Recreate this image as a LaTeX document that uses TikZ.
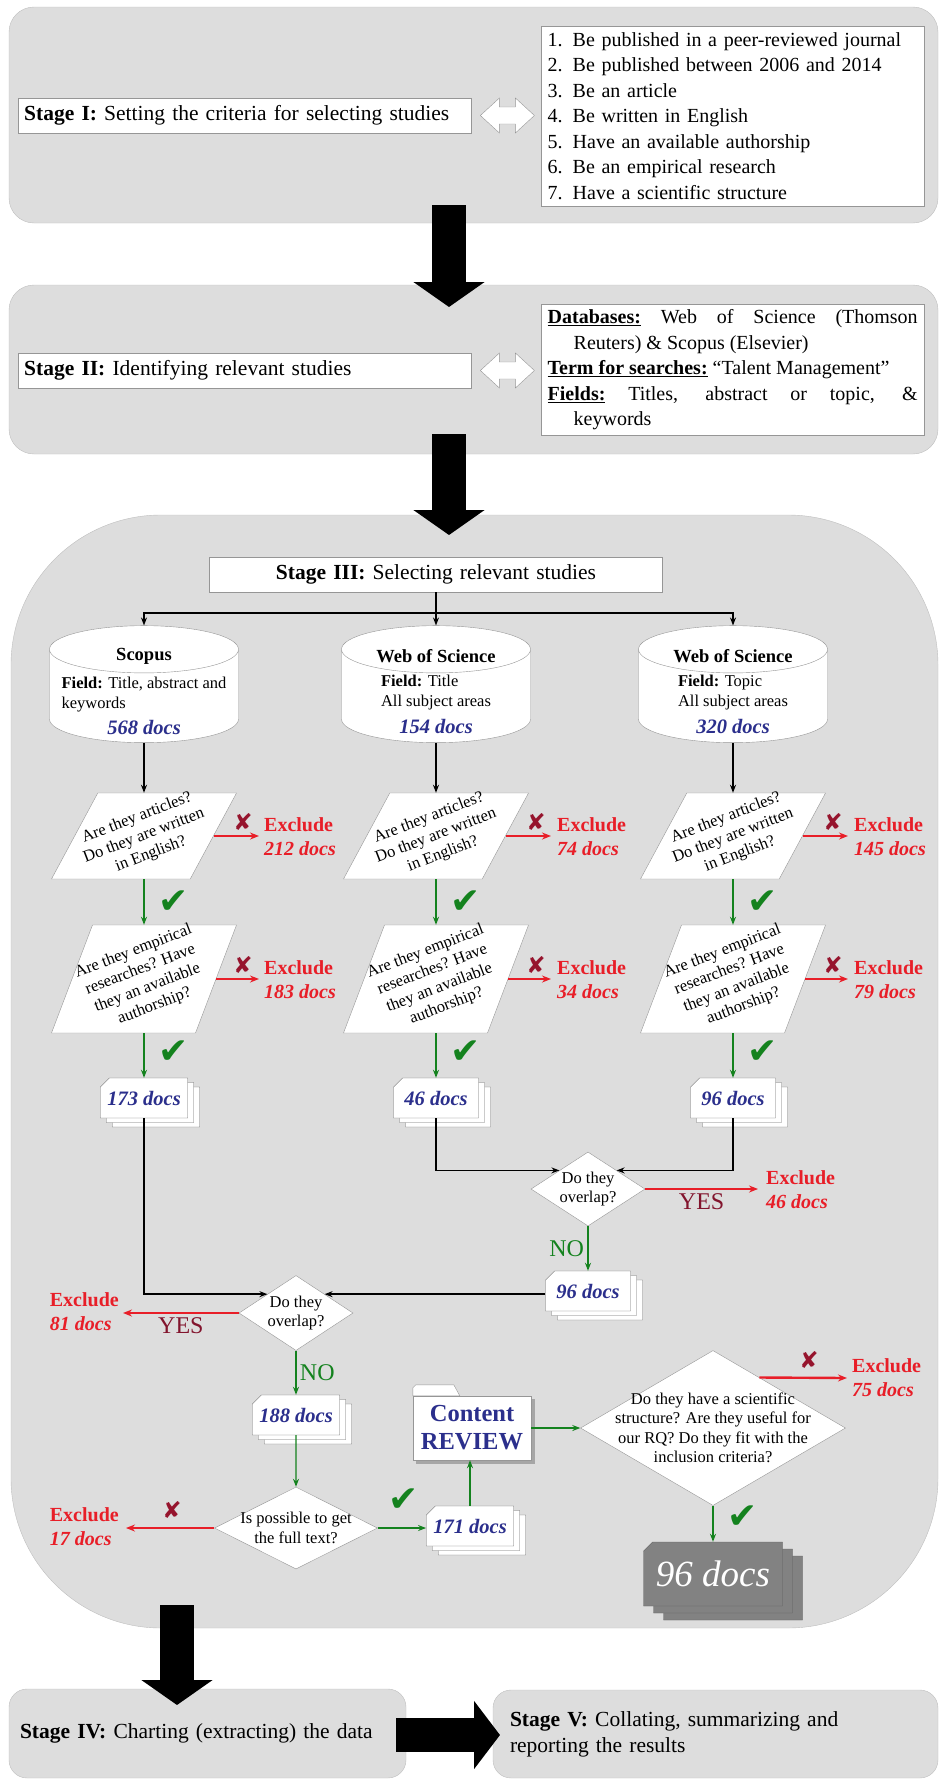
\documentclass[tikz,border=0pt]{standalone}
\usepackage{fontspec}
\setmainfont{Liberation Serif}
\newfontfamily\symfont{DejaVu Sans}
\usetikzlibrary{shapes.geometric,shapes.misc,shadows,arrows.meta,calc}

\definecolor{panelgrey}{RGB}{221,221,221}
\definecolor{panelline}{RGB}{190,190,190}
\definecolor{boxline}{RGB}{150,150,150}
\definecolor{sheetline}{RGB}{110,110,110}
\definecolor{docblue}{RGB}{43,47,140}
\definecolor{exred}{RGB}{232,30,40}
\definecolor{xred}{RGB}{150,20,45}
\definecolor{yesred}{RGB}{130,20,45}
\definecolor{okgreen}{RGB}{20,130,30}
\definecolor{stackgrey}{RGB}{130,130,130}
\definecolor{stackline}{RGB}{95,95,95}

\newcommand{\stagefont}{\fontsize{21.5}{26}\selectfont}
\newcommand{\qfont}{\fontsize{16.5}{19.5}\selectfont}
\newcommand{\docfont}{\fontsize{20.5}{24}\selectfont\bfseries\itshape}
\newcommand{\crit}[2]{\makebox[25pt][l]{#1.}#2}
\newcommand{\excl}[1]{\textbf{Exclude}\\\textbf{\textit{#1}}}
\newcommand{\dbinfo}[3]{\parbox{180pt}{\centering
  {\fontsize{18.5}{20}\selectfont\bfseries #1\par}\vspace{9pt}
  {\fontsize{16.5}{20}\selectfont\begin{tabular}{@{}l@{}}#2\end{tabular}\par}\vspace{5pt}
  {\docfont\color{docblue}#3\par}}}

\begin{document}
\begin{tikzpicture}[x=1pt,y=-1pt,
  panel/.style={draw=panelline,fill=panelgrey,inner sep=0pt},
  stagebox/.style={draw=boxline,fill=white,minimum height=35pt,inner xsep=6pt,text width=441pt,align=left,font=\stagefont},
  listbox/.style={draw=boxline,fill=white,anchor=north west,inner xsep=6.5pt,inner ysep=4pt,text width=370pt,align=left,font=\fontsize{20}{25.5}\selectfont},
  twoway/.style={draw=boxline,fill=white,line join=miter},
  bigarrow/.style={line width=34pt,-{Triangle[length=25pt,width=70pt]}},
  flow/.style={-{Stealth[length=8pt,width=6pt]},line width=1.5pt},
  okflow/.style={flow,color=okgreen,line width=1.3pt},
  exflow/.style={-{Stealth[length=9pt,width=7pt]},color=exred,line width=2.4pt},
  db/.style={cylinder,shape border rotate=90,aspect=0.25,draw=boxline,fill=white,minimum width=189pt,minimum height=117pt,inner sep=2pt},
  slanted/.style={trapezium,trapezium stretches=true,draw=boxline,fill=white,minimum width=185pt,inner sep=2pt},
  qtext/.style={font=\qfont,align=center,rotate=21},
  decision/.style={diamond,draw=boxline,fill=white,inner sep=1pt},
  dtext/.style={font=\qfont,align=center},
  sheet/.style={chamfered rectangle,chamfered rectangle corners=north west,chamfered rectangle xsep=6pt,inner sep=1pt},
  docs/.style={sheet,draw=sheetline,fill=white,minimum width=85pt,minimum height=40pt,text=docblue,font=\docfont,
    double copy shadow={shadow xshift=6pt,shadow yshift=-4.5pt,draw=sheetline}},
  finaldocs/.style={sheet,draw=stackline,fill=stackgrey,minimum width=139pt,minimum height=64pt,text=white,font=\fontsize{37}{40}\selectfont\itshape,
    double copy shadow={shadow xshift=10pt,shadow yshift=-7pt,fill=stackgrey,draw=stackline}},
  folder/.style={draw=boxline,fill=white,minimum width=118pt,minimum height=64pt,inner sep=0pt,align=center,text=docblue,font=\fontsize{24.5}{28}\selectfont\bfseries,
    copy shadow={shadow xshift=3pt,shadow yshift=-3pt,fill=gray!70,draw=gray!70}},
  okmark/.style={text=okgreen,font=\symfont\fontsize{36}{36}\selectfont,inner sep=0pt},
  xmark/.style={text=xred,font=\symfont\fontsize{23}{23}\selectfont,inner sep=0pt},
  exlabel/.style={text=exred,align=left,font=\fontsize{20}{24}\selectfont,inner sep=0pt},
  yeslabel/.style={text=yesred,font=\fontsize{24}{24}\selectfont},
  nolabel/.style={text=okgreen,font=\fontsize{24}{24}\selectfont}]
\useasboundingbox (0,0) rectangle (940,1780);

%%%%%%%% stages
\node[panel,rounded corners=25pt,minimum width=929pt,minimum height=216pt] (stage1) at (473.5,115) {};
\node[panel,rounded corners=25pt,minimum width=929pt,minimum height=169pt] (stage2) at (473.5,369.5) {};
\node[panel,rounded corners=150pt,minimum width=927pt,minimum height=1113pt] (stage3) at (474.5,1071.5) {};
\node[panel,rounded corners=18pt,minimum width=397pt,minimum height=89pt,text width=375pt,align=left,font=\stagefont] (stage4) at (207.5,1733.5) {\textbf{Stage IV:} Charting (extracting) the data};
\node[panel,rounded corners=18pt,minimum width=445pt,minimum height=88pt,text width=411pt,align=left,font=\stagefont] (stage5) at (715.5,1734) {\textbf{Stage V:} Collating, summarizing and\\reporting the results};

\coordinate (a1) at (449,205);
\coordinate (a1e) at (449,307);
\coordinate (a2) at (449,434);
\coordinate (a2e) at (449,535);
\coordinate (a3) at (177,1605);
\coordinate (a3e) at (177,1705);
\coordinate (a4) at (396,1735);
\coordinate (a4e) at (500,1735);
\draw[bigarrow] (a1) -- (a1e);
\draw[bigarrow] (a2) -- (a2e);
\draw[bigarrow] (a3) -- (a3e);
\draw[bigarrow,-{Triangle[length=26pt,width=67pt]}] (a4) -- (a4e);

%%%%%%%% stage I
\node[stagebox,anchor=west] (s1) at (18,115.5) {\textbf{Stage I:} Setting the criteria for selecting studies};
\node[listbox,minimum height=180pt] (criteria) at (541,26) {\crit{1}{Be published in a peer-reviewed journal}\\
\crit{2}{Be published between 2006 and 2014}\\
\crit{3}{Be an article}\\
\crit{4}{Be written in English}\\
\crit{5}{Have an available authorship}\\
\crit{6}{Be an empirical research}\\
\crit{7}{Have a scientific structure}};
\filldraw[twoway] ($(s1.east)+(9,0)$) -- ++(19,-17.5) -- ++(0,9) -- ++(16,0) -- ++(0,-9) -- ++(19,17.5)
  -- ++(-19,17.5) -- ++(0,-9) -- ++(-16,0) -- ++(0,9) -- cycle;

%%%%%%%% stage II
\node[stagebox,anchor=west] (s2) at (18,370.5) {\textbf{Stage II:} Identifying relevant studies};
\node[listbox,align=justify,minimum height=131pt] (sources) at (541,304) {\underline{\textbf{Databases:}}\hangindent=26pt\hangafter=1{} Web of Science (Thomson\linebreak Reuters) \& Scopus (Elsevier)\par
\underline{\textbf{Term for searches:}} “Talent Management”\par
\underline{\textbf{Fields:}} Titles, abstract or topic, \&\linebreak\hspace*{26pt}keywords};
\filldraw[twoway] ($(s2.east)+(9,0)$) -- ++(19,-17.5) -- ++(0,9) -- ++(16,0) -- ++(0,-9) -- ++(19,17.5)
  -- ++(-19,17.5) -- ++(0,-9) -- ++(-16,0) -- ++(0,9) -- cycle;

%%%%%%%% stage III
\node[stagebox,align=center] (s3) at (436,574.5) {\textbf{Stage III:} Selecting relevant studies};
\node[db,label={[inner sep=0pt,yshift=7pt]center:{\dbinfo{Scopus}{\textbf{Field:} Title, abstract and\\keywords}{568 docs}}}] (scopus) at (144,698.5) {\hspace*{185pt}};
\node[db,label={[inner sep=0pt,yshift=7pt]center:{\dbinfo{Web of Science}{\textbf{Field:} Title\\All subject areas}{154 docs}}}] (wos1) at (436,698.5) {\hspace*{185pt}};
\node[db,label={[inner sep=0pt,yshift=7pt]center:{\dbinfo{Web of Science}{\textbf{Field:} Topic\\All subject areas}{320 docs}}}] (wos2) at (733,698.5) {\hspace*{185pt}};
\coordinate (split) at (436,613);
\draw[flow] (s3) -- (split) -| (scopus);
\draw[flow] (split) -| (wos2);
\path[flow] (split) edge (wos1);

\node[slanted,trapezium left angle=63.4,trapezium right angle=116.6,minimum height=86pt,label={[qtext]center:{Are they articles?\\Do they are written\\in English?}}] (lang1) at (144,836) {};
\node[slanted,trapezium left angle=63.4,trapezium right angle=116.6,minimum height=86pt,label={[qtext]center:{Are they articles?\\Do they are written\\in English?}}] (lang2) at (436,836) {};
\node[slanted,trapezium left angle=63.4,trapezium right angle=116.6,minimum height=86pt,label={[qtext]center:{Are they articles?\\Do they are written\\in English?}}] (lang3) at (733,836) {};
\path[flow] (scopus) edge (lang1);
\path[flow] (wos1) edge (lang2);
\path[flow] (wos2) edge (lang3);

\coordinate (out212) at (259,836);
\coordinate (out74) at (551,836);
\coordinate (out145) at (848,836);
\path[exflow] (lang1) edge (out212);
\path[exflow] (lang2) edge (out74);
\path[exflow] (lang3) edge (out145);
\node[xmark] (x212) at (243,822) {✘};
\node[xmark] (x74) at (536,822) {✘};
\node[xmark] (x145) at (833,822) {✘};
\node[exlabel,anchor=west] (n212) at (264,837) {\excl{212 docs}};
\node[exlabel,anchor=west] (n74) at (557,837) {\excl{74 docs}};
\node[exlabel,anchor=west] (n145) at (854,837) {\excl{145 docs}};

\node[slanted,trapezium left angle=68.3,trapezium right angle=111.7,minimum height=108pt,label={[qtext]center:{Are they empirical\\researches? Have\\they an available\\authorship?}}] (emp1) at (144,979) {};
\node[slanted,trapezium left angle=68.3,trapezium right angle=111.7,minimum height=108pt,label={[qtext]center:{Are they empirical\\researches? Have\\they an available\\authorship?}}] (emp2) at (436,979) {};
\node[slanted,trapezium left angle=68.3,trapezium right angle=111.7,minimum height=108pt,label={[qtext]center:{Are they empirical\\researches? Have\\they an available\\authorship?}}] (emp3) at (733,979) {};
\path[okflow] (lang1) edge (emp1);
\path[okflow] (lang2) edge (emp2);
\path[okflow] (lang3) edge (emp3);
\node[okmark] (ok1) at (174,902) {✔};
\node[okmark] (ok2) at (466,902) {✔};
\node[okmark] (ok3) at (763,902) {✔};

\coordinate (out183) at (259,979);
\coordinate (out34) at (551,979);
\coordinate (out79) at (848,979);
\path[exflow] (emp1) edge (out183);
\path[exflow] (emp2) edge (out34);
\path[exflow] (emp3) edge (out79);
\node[xmark] (x183) at (243,965) {✘};
\node[xmark] (x34) at (536,965) {✘};
\node[xmark] (x79) at (833,965) {✘};
\node[exlabel,anchor=west] (n183) at (264,980) {\excl{183 docs}};
\node[exlabel,anchor=west] (n34) at (557,980) {\excl{34 docs}};
\node[exlabel,anchor=west] (n79) at (854,980) {\excl{79 docs}};

\node[docs] (d173) at (144,1098) {173 docs};
\node[docs] (d46) at (436,1098) {46 docs};
\node[docs] (d96a) at (733,1098) {96 docs};
\path[okflow] (emp1) edge (d173);
\path[okflow] (emp2) edge (d46);
\path[okflow] (emp3) edge (d96a);
\node[okmark] (ok4) at (174,1052) {✔};
\node[okmark] (ok5) at (466,1052) {✔};
\node[okmark] (ok6) at (763,1052) {✔};

%%%%%%%% overlaps
\node[decision,minimum width=114pt,minimum height=74pt,label={[dtext]center:{Do they\\overlap?}}] (ovl1) at (588,1189) {};
\draw[flow] (d46) |- (ovl1.north west);
\draw[flow] (d96a) |- (ovl1.north east);
\coordinate (out46) at (758,1189);
\path[exflow] (ovl1) edge node[yeslabel,below] {YES} (out46);
\node[exlabel,anchor=west] (n46) at (766,1190) {\excl{46 docs}};
\node[docs] (d96b) at (588,1291) {96 docs};
\path[okflow] (ovl1) edge node[nolabel,left] {NO} (d96b);

\node[decision,minimum width=114pt,minimum height=75pt,label={[dtext]center:{Do they\\overlap?}}] (ovl2) at (296,1313) {};
\draw[flow] (d173) |- (ovl2.north west);
\draw[flow] (d96b.west |- ovl2.north east) -- (ovl2.north east);
\coordinate (out81) at (123,1313);
\path[exflow] (ovl2) edge node[yeslabel,below] {YES} (out81);
\node[exlabel,anchor=east] (n81) at (119,1312) {\excl{81 docs}};
\node[docs] (d188) at (296,1415) {188 docs};
\path[okflow] (ovl2) edge node[nolabel,right] {NO} (d188);

%%%%%%%% full text and review
\node[decision,minimum width=163pt,minimum height=82pt,label={[dtext]center:{Is possible to get\\the full text?}}] (full) at (296,1528) {};
\path[okflow] (d188) edge (full);
\coordinate (out17) at (126,1528);
\path[exflow] (full) edge (out17);
\node[xmark] (x17) at (172,1510) {✘};
\node[exlabel,anchor=east] (n17) at (119,1527) {\excl{17 docs}};
\node[docs] (d171) at (470,1526) {171 docs};
\draw[okflow] (full.east) -- (full.east -| d171.west);
\node[okmark] (ok7) at (404,1500) {✔};

\node[folder] (review) at (472,1428) {Content\\REVIEW};
\filldraw[draw=boxline,fill=white] (review.north west) -- ++(0,-8) -- ++(3,-3) -- ++(38,0) -- ++(6,11) -- cycle;
\draw[okflow] (d171.north) -- (d171.north |- review.south);

\node[decision,minimum width=265pt,minimum height=155pt,label={[dtext]center:{Do they have a scientific\\structure? Are they useful for\\our RQ? Do they fit with the\\inclusion criteria?}}] (fit) at (713,1428) {};
\path[okflow] (review) edge (fit);
\coordinate (out75) at (847,1378);
\draw[exflow] ($(fit.north)!0.35!(fit.east)$) -- (out75);
\node[xmark] (x75) at (809,1360) {✘};
\node[exlabel,anchor=west] (n75) at (852,1378) {\excl{75 docs}};
\node[finaldocs] (final) at (713,1574) {96 docs};
\path[okflow] (fit) edge (final);
\node[okmark] (ok8) at (743,1517) {✔};
\end{tikzpicture}
\end{document}
